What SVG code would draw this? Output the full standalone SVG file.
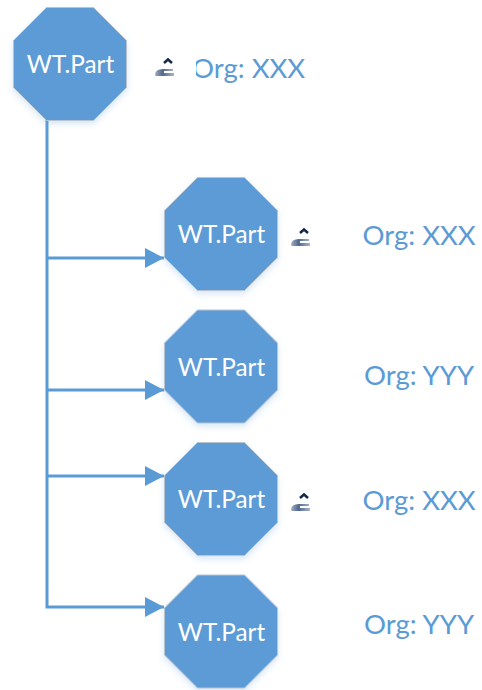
<svg xmlns="http://www.w3.org/2000/svg" width="482" height="690" viewBox="0 0 482 690">
<style>
.oct{fill:#5b9bd5;stroke:#b9c4cf;stroke-width:1;filter:url(#sh)}
.nt{font-family:"Lato","Liberation Sans",sans-serif;font-size:24.300px;fill:#fff;text-anchor:middle}
.org{font-family:"Lato","Liberation Sans",sans-serif;font-size:27.500px;fill:#5b9bd5}
.ln{fill:none;stroke:#5b9bd5;stroke-width:3}
.bar{fill:url(#bg)}
.chev{fill:none;stroke:#12284a;stroke-width:2.500}
</style>
<defs>
<filter id="sh" x="-10%" y="-10%" width="120%" height="125%"><feDropShadow dx="0" dy="3" stdDeviation="3" flood-color="#5b9bd5" flood-opacity="0.25"/></filter>
<polygon id="o" points="33,0 80,0 113,33 113,80 80,113 33,113 0,80 0,33"/>
<marker id="a" markerUnits="userSpaceOnUse" markerWidth="19" markerHeight="20" refX="19" refY="10" orient="auto"><path d="M0 0L19 10L0 20Z" fill="#5b9bd5"/></marker>
<linearGradient id="bg" x1="0" x2="1" y1="0" y2="0"><stop offset="0" stop-color="#a3aebd"/><stop offset="0.4" stop-color="#4f688f"/><stop offset="1" stop-color="#a9b6c8"/></linearGradient>
<g id="ic"><path class="chev" d="M9 5L13 1.500L17 5"/><path class="bar" d="M0 17Q0 11 8 11L18 11L18 13L9 13L9 15L19 15L19 18L1 18Z"/></g>
<clipPath id="cl"><rect x="196" y="40" width="120" height="50"/></clipPath>
</defs>
<g id="connectors">
<path class="ln" d="M47 120V607H164" marker-end="url(#a)"/>
<path class="ln" d="M47 258H164" marker-end="url(#a)"/>
<path class="ln" d="M47 390H164" marker-end="url(#a)"/>
<path class="ln" d="M47 476H164" marker-end="url(#a)"/>
</g>
<g id="n1"><use href="#o" x="13.500" y="7.500" class="oct"/><text class="nt" x="70.500" y="73">WT.Part</text></g>
<g id="n2"><use href="#o" x="164.500" y="177.500" class="oct"/><text class="nt" x="221.500" y="243">WT.Part</text></g>
<g id="n3"><use href="#o" x="164.500" y="310" class="oct"/><text class="nt" x="221.500" y="376">WT.Part</text></g>
<g id="n4"><use href="#o" x="164.500" y="442.500" class="oct"/><text class="nt" x="221.500" y="508">WT.Part</text></g>
<g id="n5"><use href="#o" x="164.500" y="575" class="oct"/><text class="nt" x="221.500" y="641">WT.Part</text></g>
<g id="l1"><use href="#ic" x="155" y="58"/><text class="org" x="192" y="78" clip-path="url(#cl)">Org: XXX</text></g>
<g id="l2"><use href="#ic" x="291" y="228"/><text class="org" x="362.500" y="245">Org: XXX</text></g>
<g id="l3"><text class="org" x="364" y="385">Org: YYY</text></g>
<g id="l4"><use href="#ic" x="291" y="493"/><text class="org" x="362.500" y="510">Org: XXX</text></g>
<g id="l5"><text class="org" x="364" y="634">Org: YYY</text></g>
</svg>
